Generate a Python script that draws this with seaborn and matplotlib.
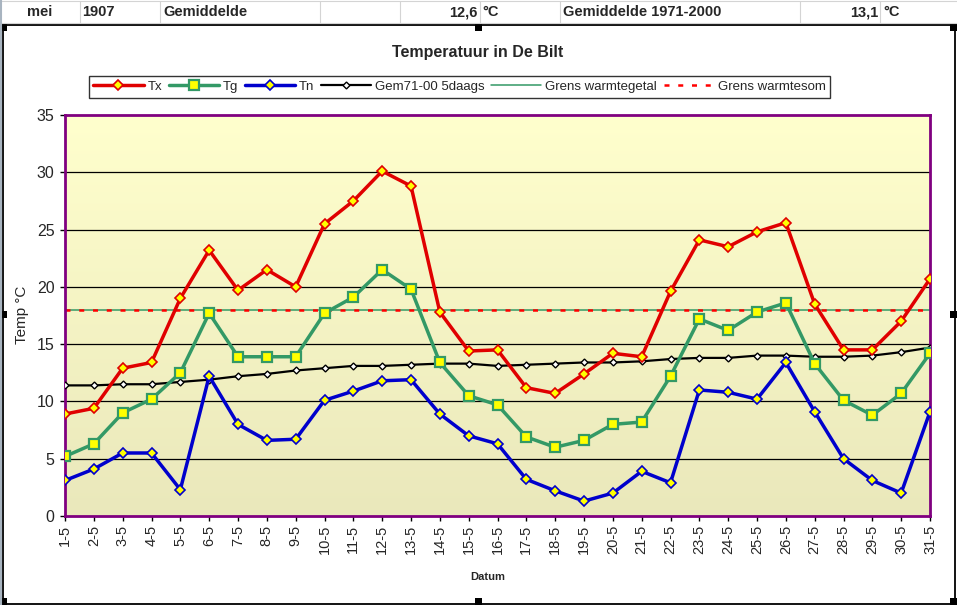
import numpy as np
import pandas as pd
import matplotlib
matplotlib.use("Agg")
import matplotlib.pyplot as plt
import seaborn as sns
from matplotlib.patches import Rectangle
from matplotlib.lines import Line2D
from matplotlib.colors import LinearSegmentedColormap

# ---------------- data ----------------
dates = ["1-5", "2-5", "3-5", "4-5", "5-5", "6-5", "7-5", "8-5", "9-5", "10-5",
         "11-5", "12-5", "13-5", "14-5", "15-5", "16-5", "17-5", "18-5", "19-5", "20-5",
         "21-5", "22-5", "23-5", "24-5", "25-5", "26-5", "27-5", "28-5", "29-5", "30-5", "31-5"]
tx = [8.9, 9.4, 12.9, 13.4, 19.0, 23.2, 19.7, 21.5, 20.0, 25.5,
      27.5, 30.1, 28.8, 17.8, 14.4, 14.5, 11.2, 10.7, 12.4, 14.2,
      13.9, 19.6, 24.1, 23.5, 24.8, 25.6, 18.5, 14.5, 14.5, 17.0, 20.7]
tg = [5.2, 6.3, 9.0, 10.2, 12.5, 17.7, 13.9, 13.9, 13.9, 17.7,
      19.1, 21.5, 19.8, 13.4, 10.5, 9.7, 6.9, 6.0, 6.6, 8.0,
      8.2, 12.2, 17.2, 16.2, 17.8, 18.6, 13.3, 10.1, 8.8, 10.7, 14.2]
tn = [3.1, 4.1, 5.5, 5.5, 2.3, 12.2, 8.0, 6.6, 6.7, 10.1,
      10.9, 11.8, 11.9, 8.9, 7.0, 6.3, 3.2, 2.2, 1.3, 2.0,
      3.9, 2.9, 11.0, 10.8, 10.2, 13.4, 9.1, 5.0, 3.1, 2.0, 9.1]
gem = [11.4, 11.4, 11.5, 11.5, 11.7, 11.9, 12.2, 12.4, 12.7, 12.9,
       13.1, 13.1, 13.2, 13.3, 13.3, 13.1, 13.2, 13.3, 13.4, 13.4,
       13.5, 13.7, 13.8, 13.8, 14.0, 14.0, 13.9, 13.9, 14.0, 14.3, 14.7]
grens_warmtegetal = 18
grens_warmtesom = 18
yticks = [0, 5, 10, 15, 20, 25, 30, 35]

header_cells = [("mei", 40, "center"), ("1907", 82, "left"), ("Gemiddelde", 163, "left"),
                ("12,6", 478, "right"), ("°C", 482, "left"),
                ("Gemiddelde 1971-2000", 563, "left"), ("13,1", 878, "right"), ("°C", 883, "left")]

# ---------------- figure ----------------
sns.set_style("white")
plt.rcParams['font.family'] = ['Liberation Sans', 'DejaVu Sans']

W, H = 957, 605
fig = plt.figure(figsize=(W / 100, H / 100), dpi=100)

def fx(x):
    return x / W

def fy(y):
    return 1 - y / H

# spreadsheet header row
grid_col = "#D4D4D4"
for xv in [80, 160, 320, 400, 480, 560, 800, 880]:
    fig.add_artist(Line2D([fx(xv), fx(xv)], [fy(1), fy(23)], color=grid_col, lw=0.8))
fig.add_artist(Line2D([0, 1], [fy(1), fy(1)], color=grid_col, lw=0.8))
fig.add_artist(Line2D([0, 1], [fy(23), fy(23)], color=grid_col, lw=0.8))
for txt, xv, ha in header_cells:
    fig.text(fx(xv), fy(12.5), txt, ha=ha, va="center", fontsize=10.5, fontweight="bold")
fig.add_artist(Line2D([fx(0.8), fx(0.8)], [1, 0], color="#A8B4C0", lw=1.5))

# chart border + handles
fig.add_artist(Rectangle((fx(3), fy(603.5)), fx(952), (603.5 - 24.5) / H,
                         fill=False, edgecolor="black", lw=1.3))
for hx, hy in [(3, 27), (478, 27), (953, 27), (3, 314), (953, 314), (3, 601), (478, 601), (953, 601)]:
    fig.add_artist(Rectangle((fx(hx - 3.5), fy(hy + 3.5)), 7 / W, 7 / H,
                             facecolor="black", edgecolor="none"))

# plot area
L, R, T, B = 65, 930, 115, 516
ax = fig.add_axes([fx(L), fy(B), (R - L) / W, (B - T) / H])
x = np.arange(len(dates))

cmap = LinearSegmentedColormap.from_list("bg", ["#EAE8BB", "#FFFFCD"])
grad = np.linspace(0, 1, 256).reshape(-1, 1)
ax.imshow(grad, extent=[0, len(dates) - 1, 0, 35], origin="lower", aspect="auto",
          cmap=cmap, zorder=0)

for yv in yticks[1:-1]:
    ax.axhline(yv, color="black", lw=0.9, zorder=1)

ax.axhline(grens_warmtegetal, color="#339966", lw=1.1, zorder=2)
ax.axhline(grens_warmtesom, color="#FF0000", lw=1.8, ls=(0, (2, 3.5)), zorder=2)

df = pd.DataFrame({"pos": x, "Tx": tx, "Tg": tg, "Tn": tn, "Gem": gem})

sns.lineplot(data=df, x="pos", y="Gem", ax=ax, color="black", lw=1.6, marker="D",
             markersize=3.5, markerfacecolor="white", markeredgecolor="black",
             markeredgewidth=1.0, legend=False, zorder=3)
sns.lineplot(data=df, x="pos", y="Tn", ax=ax, color="#0000CC", lw=2.5, marker="D",
             markersize=5, markerfacecolor="#FFFF00", markeredgecolor="#0000CC",
             markeredgewidth=1.2, legend=False, zorder=4)
sns.lineplot(data=df, x="pos", y="Tg", ax=ax, color="#339966", lw=2.5, marker="s",
             markersize=6.5, markerfacecolor="#FFFF00", markeredgecolor="#339966",
             markeredgewidth=1.6, legend=False, zorder=5)
sns.lineplot(data=df, x="pos", y="Tx", ax=ax, color="#E00000", lw=2.5, marker="D",
             markersize=5, markerfacecolor="#FFFF00", markeredgecolor="#E00000",
             markeredgewidth=1.2, legend=False, zorder=6)

ax.set_xlim(0, len(dates) - 1)
ax.set_ylim(0, 35)
ax.set_yticks(yticks)
ax.set_xticks(x)
ax.set_xticklabels(dates, rotation=90, fontsize=10.5)
ax.tick_params(axis="y", labelsize=11.5, length=3.5, width=1, color="black", pad=4, direction="out", left=True)
ax.tick_params(axis="x", length=3.5, width=1, color="black", pad=3, direction="out", bottom=True)
for s in ax.spines.values():
    s.set_color("#800080")
    s.set_linewidth(2)
ax.set_xlabel("")
ax.set_ylabel("")

fig.text(fx(22), fy(315), "Temp °C", rotation=90, ha="center", va="center", fontsize=11)
fig.text(fx(488), fy(577), "Datum", ha="center", va="center", fontsize=8, fontweight="bold")
fig.text(fx(478), fy(53), "Temperatuur in De Bilt", ha="center", va="center",
         fontsize=11.5, fontweight="bold")

# legend
handles = [
    Line2D([], [], color="#E00000", lw=2.5, marker="D", markersize=5, markerfacecolor="#FFFF00",
           markeredgecolor="#E00000", markeredgewidth=1.2),
    Line2D([], [], color="#339966", lw=2.5, marker="s", markersize=6.5, markerfacecolor="#FFFF00",
           markeredgecolor="#339966", markeredgewidth=1.6),
    Line2D([], [], color="#0000CC", lw=2.5, marker="D", markersize=5, markerfacecolor="#FFFF00",
           markeredgecolor="#0000CC", markeredgewidth=1.2),
    Line2D([], [], color="black", lw=1.6, marker="D", markersize=3.5, markerfacecolor="white",
           markeredgecolor="black", markeredgewidth=1.0),
    Line2D([], [], color="#339966", lw=1.1),
    Line2D([], [], color="#FF0000", lw=1.8, ls=(0, (2, 3.5))),
]
labels = ["Tx", "Tg", "Tn", "Gem71-00 5daags", "Grens warmtegetal", "Grens warmtesom"]
leg = fig.legend(handles, labels, loc="center", bbox_to_anchor=(fx(459.5), fy(87)), ncol=6,
                 fontsize=9.5, frameon=True, fancybox=False, shadow=False, handlelength=3.8,
                 handletextpad=0.3, columnspacing=0.5, borderpad=0.35, numpoints=1,
                 borderaxespad=0)
leg.get_frame().set_edgecolor("black")
leg.get_frame().set_linewidth(1.0)

fig.savefig("out.png", dpi=100)
